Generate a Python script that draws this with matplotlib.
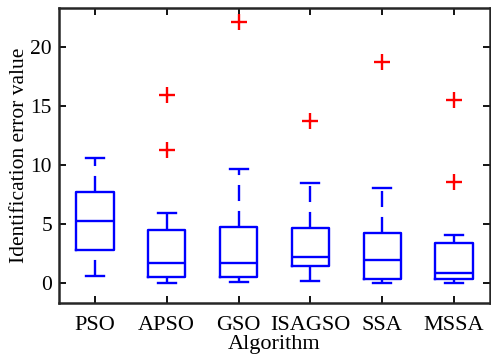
import matplotlib
matplotlib.use("Agg")
import matplotlib.pyplot as plt

# box statistics
algorithms = ["PSO", "APSO", "GSO", "ISAGSO", "SSA", "MSSA"]
whisker_low = [0.59, 0.0, 0.1, 0.2, 0.0, 0.0]
q1 = [2.8, 0.53, 0.53, 1.44, 0.31, 0.31]
median = [5.25, 1.72, 1.72, 2.18, 1.92, 0.87]
q3 = [7.74, 4.52, 4.75, 4.69, 4.2, 3.39]
whisker_high = [10.6, 5.96, 9.66, 8.45, 8.02, 4.07]
outliers = [[], [15.9, 11.3], [22.1], [13.7], [18.7], [15.5, 8.56]]

plt.rcParams["font.family"] = ["Liberation Serif", "DejaVu Serif"]

stats = []
for i, name in enumerate(algorithms):
    stats.append({
        "label": name,
        "whislo": whisker_low[i],
        "q1": q1[i],
        "med": median[i],
        "q3": q3[i],
        "whishi": whisker_high[i],
        "fliers": outliers[i],
    })

fig = plt.figure(figsize=(4.91, 3.57), dpi=100)
ax = fig.add_axes([0.12, 0.151, 0.878, 0.827])

blue = "#0000ff"
lw = 1.7
parts = ax.bxp(
    stats,
    widths=0.52,
    boxprops=dict(color=blue, linewidth=lw),
    medianprops=dict(color=blue, linewidth=lw),
    whiskerprops=dict(color=blue, linewidth=lw, linestyle=(0, (6.8, 4.2))),
    capprops=dict(color=blue, linewidth=lw),
    flierprops=dict(marker="+", markeredgecolor="red", markersize=11, markeredgewidth=1.7),
    capwidths=0.25,
)

# lower whiskers: start the dash pattern at the cap, like MATLAB does
for line in parts["whiskers"][0::2]:
    x, y = line.get_data()
    line.set_data(x[::-1], y[::-1])

ax.set_xlim(0.5, 6.5)
ax.set_ylim(-1.7, 23.3)
ax.set_yticks([0, 5, 10, 15, 20])
ax.tick_params(direction="in", top=True, right=True, length=5, width=1.3)
ax.tick_params(axis="x", labelsize=16, pad=9)
ax.tick_params(axis="y", labelsize=15.5, pad=5)
for s in ax.spines.values():
    s.set_linewidth(1.8)
    s.set_color("#262626")
ax.set_xlabel("Algorithm", fontsize=16, labelpad=0)
ax.set_ylabel("Identification error value", fontsize=15.5, labelpad=1)

fig.savefig("out.png", dpi=100)
